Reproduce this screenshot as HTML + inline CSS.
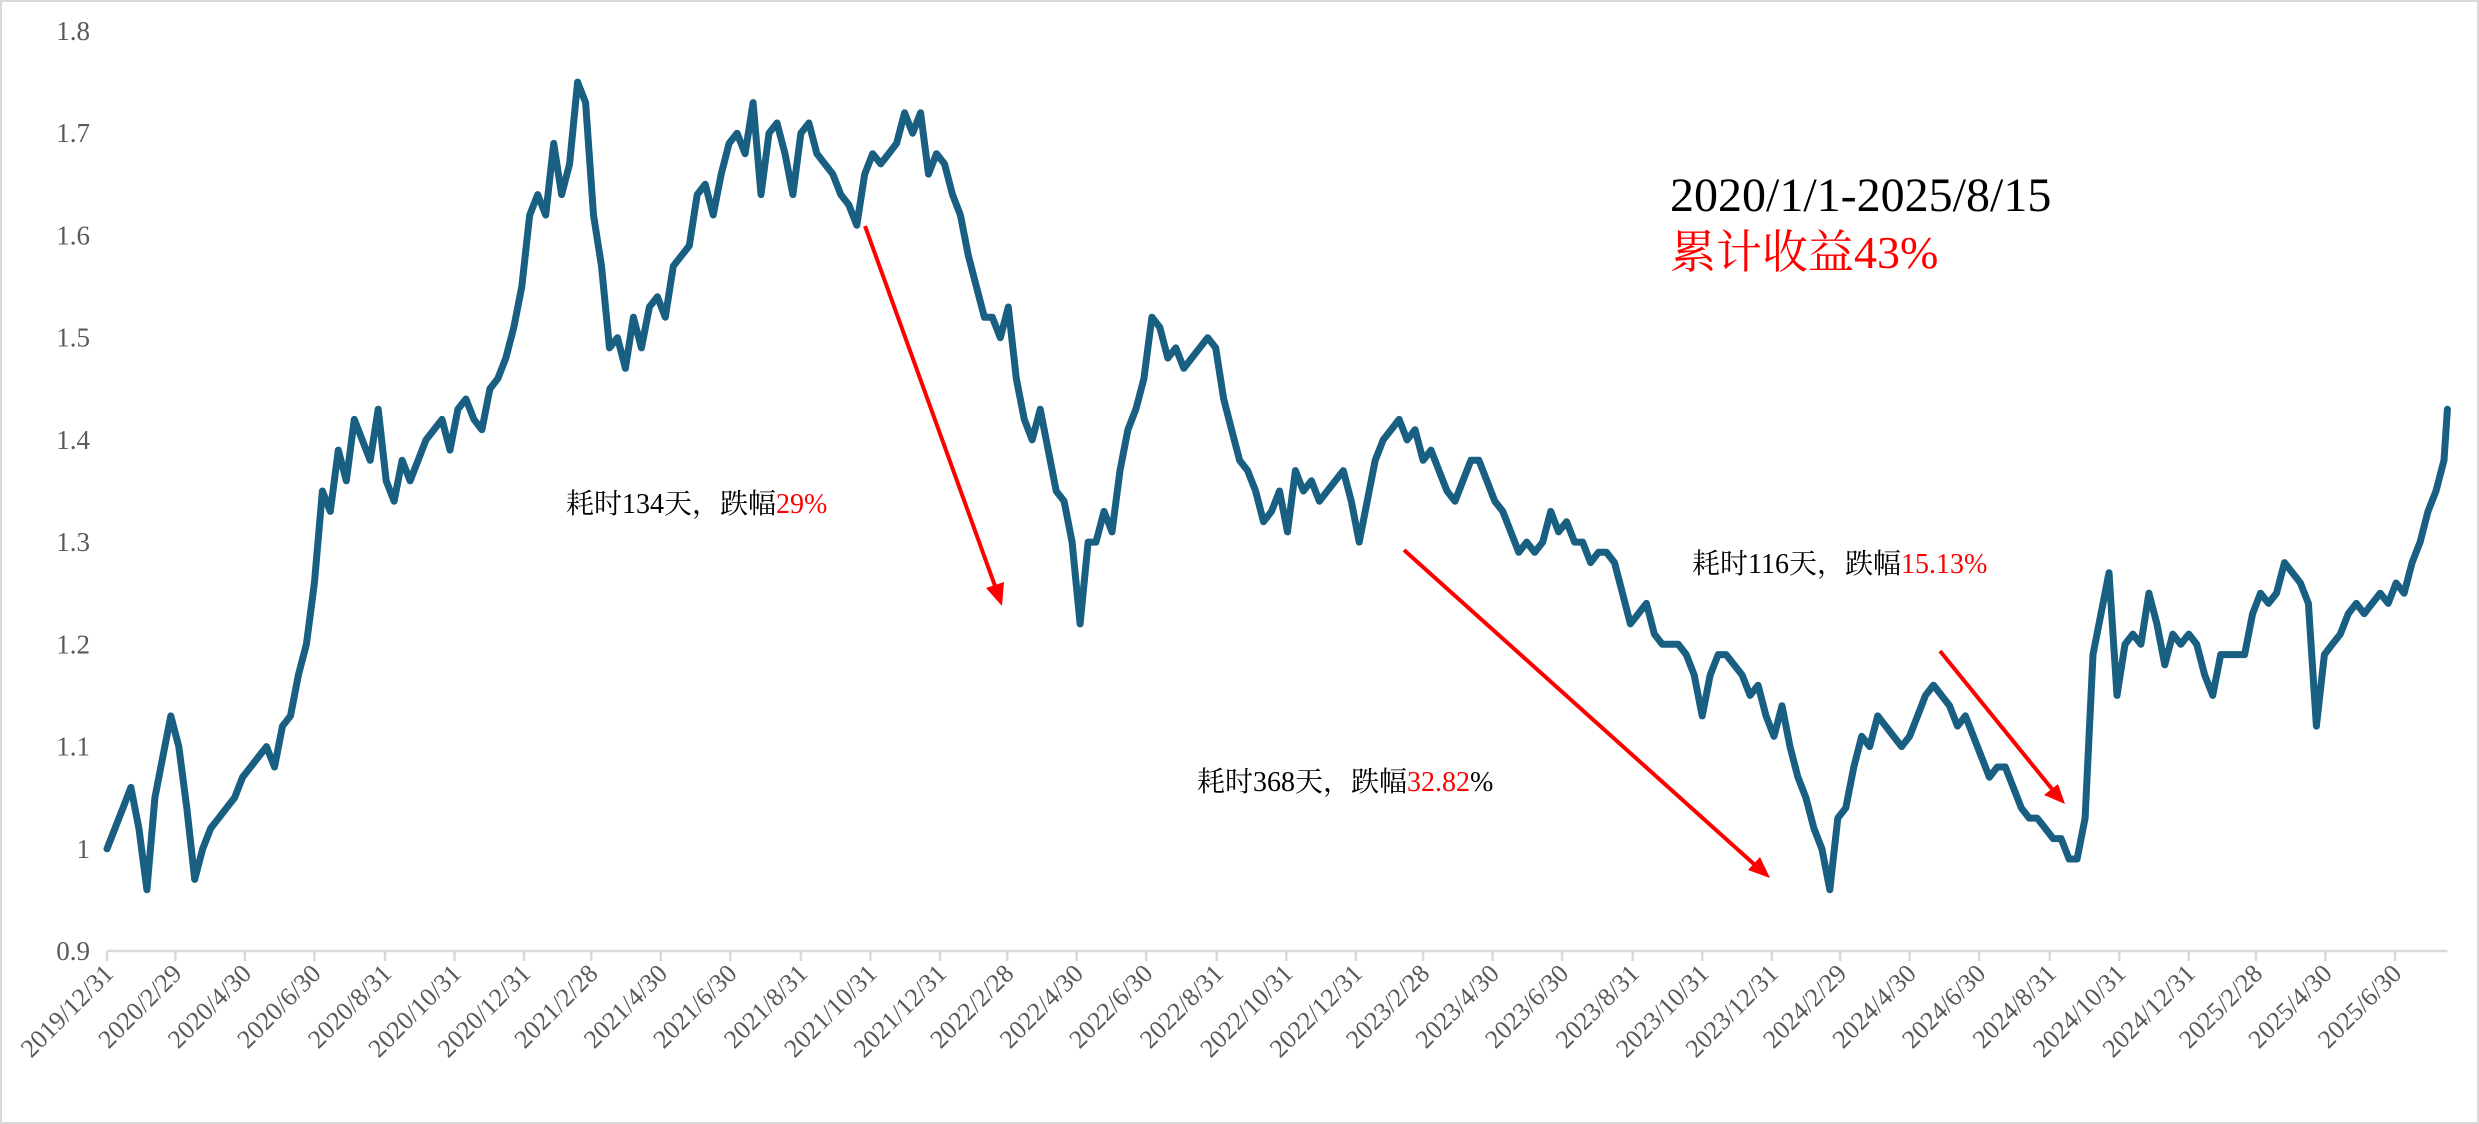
<!DOCTYPE html>
<html><head><meta charset="utf-8"><style>
html,body{margin:0;padding:0;background:#fff;}
svg{display:block;}
</style></head><body>
<svg id="chart" width="2479" height="1124" viewBox="0 0 2479 1124" xmlns="http://www.w3.org/2000/svg">
<rect x="1" y="1" width="2477" height="1122" fill="#fff" stroke="#d9d9d9" stroke-width="2"/>
<g id="yaxis"></g>
<g id="xaxis"></g>
<g id="series"></g>
<g font-family="'Liberation Serif','Noto Serif CJK SC','Noto Sans CJK SC',serif">
<text x="1670" y="211" font-size="48" fill="#000">2020/1/1-2025/8/15</text>
<text x="1670" y="268" font-size="46" fill="#ff0000">累计收益43%</text>
<text x="566" y="513" font-size="28" fill="#000">耗时134天，跌幅<tspan fill="#ff0000">29%</tspan></text>
<text x="1197" y="791" font-size="28" fill="#000">耗时368天，跌幅<tspan fill="#ff0000">32.82</tspan>%</text>
<text x="1692" y="573" font-size="28" fill="#000">耗时116天，跌幅<tspan fill="#ff0000">15.13%</tspan></text>
<line x1="865" y1="226" x2="995" y2="586" stroke="#ff0000" stroke-width="4"/>
<polygon points="1002,606 986,588 1004,582" fill="#ff0000"/>
<line x1="1404" y1="550" x2="1755" y2="865" stroke="#ff0000" stroke-width="4"/>
<polygon points="1770,878 1748,870 1760,857" fill="#ff0000"/>
<line x1="1940" y1="651" x2="2052" y2="789" stroke="#ff0000" stroke-width="4"/>
<polygon points="2065,804 2044,795 2058,784" fill="#ff0000"/>
</g>
</svg>
<script>
const yTicks = [0.9, 1.0, 1.1, 1.2, 1.3, 1.4, 1.5, 1.6, 1.7, 1.8];
const yTickLabels = ["0.9","1","1.1","1.2","1.3","1.4","1.5","1.6","1.7","1.8"];
const xTickLabels = ["2019/12/31","2020/2/29","2020/4/30","2020/6/30","2020/8/31","2020/10/31","2020/12/31","2021/2/28","2021/4/30","2021/6/30","2021/8/31","2021/10/31","2021/12/31","2022/2/28","2022/4/30","2022/6/30","2022/8/31","2022/10/31","2022/12/31","2023/2/28","2023/4/30","2023/6/30","2023/8/31","2023/10/31","2023/12/31","2024/2/29","2024/4/30","2024/6/30","2024/8/31","2024/10/31","2024/12/31","2025/2/28","2025/4/30","2025/6/30"];
const startDate = "2019-12-31";
const endDate = "2025-08-15";
const endValue = 1.43;
const weeklyValues = [
1.00,1.02,1.04,1.06,1.02,0.96,1.05,1.09,1.13,1.10,1.04,0.97,1.00,1.02,1.03,1.04,1.05,1.07,1.08,1.09,
1.10,1.08,1.12,1.13,1.17,1.20,1.26,1.35,1.33,1.39,1.36,1.42,1.40,1.38,1.43,1.36,1.34,1.38,1.36,1.38,
1.40,1.41,1.42,1.39,1.43,1.44,1.42,1.41,1.45,1.46,1.48,1.51,1.55,1.62,1.64,1.62,1.69,1.64,1.67,1.75,
1.73,1.62,1.57,1.49,1.50,1.47,1.52,1.49,1.53,1.54,1.52,1.57,1.58,1.59,1.64,1.65,1.62,1.66,1.69,1.70,
1.68,1.73,1.64,1.70,1.71,1.68,1.64,1.70,1.71,1.68,1.67,1.66,1.64,1.63,1.61,1.66,1.68,1.67,1.68,1.69,
1.72,1.70,1.72,1.66,1.68,1.67,1.64,1.62,1.58,1.55,1.52,1.52,1.50,1.53,1.46,1.42,1.40,1.43,1.39,1.35,
1.34,1.30,1.22,1.30,1.30,1.33,1.31,1.37,1.41,1.43,1.46,1.52,1.51,1.48,1.49,1.47,1.48,1.49,1.50,1.49,
1.44,1.41,1.38,1.37,1.35,1.32,1.33,1.35,1.31,1.37,1.35,1.36,1.34,1.35,1.36,1.37,1.34,1.30,1.34,1.38,
1.40,1.41,1.42,1.40,1.41,1.38,1.39,1.37,1.35,1.34,1.36,1.38,1.38,1.36,1.34,1.33,1.31,1.29,1.30,1.29,
1.30,1.33,1.31,1.32,1.30,1.30,1.28,1.29,1.29,1.28,1.25,1.22,1.23,1.24,1.21,1.20,1.20,1.20,1.19,1.17,
1.13,1.17,1.19,1.19,1.18,1.17,1.15,1.16,1.13,1.11,1.14,1.10,1.07,1.05,1.02,1.00,0.96,1.03,1.04,1.08,
1.11,1.10,1.13,1.12,1.11,1.10,1.11,1.13,1.15,1.16,1.15,1.14,1.12,1.13,1.11,1.09,1.07,1.08,1.08,1.06,
1.04,1.03,1.03,1.02,1.01,1.01,0.99,0.99,1.03,1.19,1.23,1.27,1.15,1.20,1.21,1.20,1.25,1.22,1.18,1.21,
1.20,1.21,1.20,1.17,1.15,1.19,1.19,1.19,1.19,1.23,1.25,1.24,1.25,1.28,1.27,1.26,1.24,1.12,1.19,1.20,
1.21,1.23,1.24,1.23,1.24,1.25,1.24,1.26,1.25,1.28,1.30,1.33,1.35,1.38
];

const NS = "http://www.w3.org/2000/svg";
const X0 = 107, X1 = 2395, Y0 = 951, Y1 = 31;
const DAY = 86400000;
function parse(s){ const p = s.split(/[-\/]/).map(Number); return Date.UTC(p[0], p[1]-1, p[2]); }
const t0 = parse(startDate);
const tLast = parse("2025/6/30");
function xScale(t){ return X0 + (t - t0) / (tLast - t0) * (X1 - X0); }
function yScale(v){ return Y0 - (v - 0.9) / (1.8 - 0.9) * (Y0 - Y1); }
function mk(tag, attrs, parent){ const e = document.createElementNS(NS, tag); for (const k in attrs) e.setAttribute(k, attrs[k]); parent.appendChild(e); return e; }

const yaxis = document.getElementById("yaxis");
yTicks.forEach((v, i) => {
  const t = mk("text", {x: 90, y: yScale(v) + 9, "text-anchor": "end", "font-size": 27, fill: "#595959", "font-family": "'Liberation Serif',serif"}, yaxis);
  
  
  t.textContent = yTickLabels[i];
});

const xaxis = document.getElementById("xaxis");
const xEnd = xScale(parse(endDate));
const axl = mk("line", {x1: X0, y1: Y0, x2: xEnd, y2: Y0, stroke: "#d9d9d9", "stroke-width": 2.5}, xaxis);


xTickLabels.forEach(lbl => {
  const x = xScale(parse(lbl));
  const tk = mk("line", {x1: x, y1: Y0, x2: x, y2: Y0 + 10, stroke: "#d9d9d9", "stroke-width": 2.5}, xaxis);
  
  
  const t = mk("text", {x: 0, y: 0, "text-anchor": "end", "font-size": 26, fill: "#595959", "font-family": "'Liberation Serif',serif", transform: `translate(${x + 8},${Y0 + 24}) rotate(-45)`}, xaxis);
  
  
  t.textContent = lbl;
});

const series = document.getElementById("series");
const pts = weeklyValues.map((v, i) => [xScale(t0 + i * 7 * DAY), yScale(v)]);
pts.push([xScale(parse(endDate)), yScale(endValue)]);
const path = mk("polyline", {points: pts.map(p => p[0].toFixed(1) + "," + p[1].toFixed(1)).join(" "), fill: "none", stroke: "#185f82", "stroke-width": 7, "stroke-linejoin": "round", "stroke-linecap": "round"}, series);


</script>
</body></html>
